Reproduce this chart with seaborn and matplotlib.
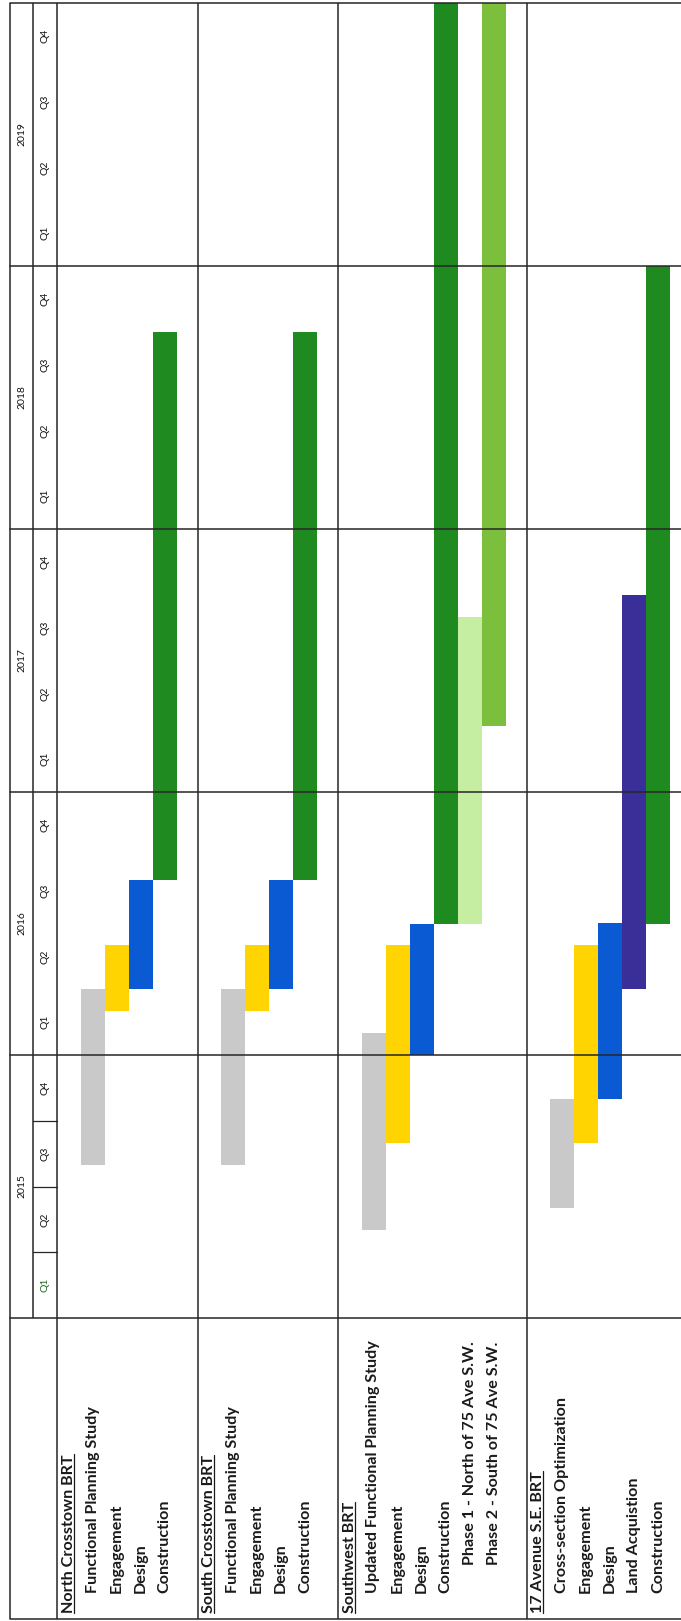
import matplotlib
matplotlib.use("Agg")
import matplotlib.pyplot as plt
import seaborn as sns
import pandas as pd
from matplotlib.lines import Line2D
from matplotlib.transforms import IdentityTransform

# ---- schedule data (months counted from January 2015) ----
groups = ["North Crosstown BRT", "South Crosstown BRT", "Southwest BRT", "17 Avenue S.E. BRT"]

nc_tasks = ["Functional Planning Study", "Engagement", "Design", "Construction"]
nc_start = [7, 14, 15, 20]
nc_end = [15, 17, 20, 45]
nc_kind = ["study", "engagement", "design", "construction"]
nc_indent = [1, 1, 1, 1]

sc_tasks = ["Functional Planning Study", "Engagement", "Design", "Construction"]
sc_start = [7, 14, 15, 20]
sc_end = [15, 17, 20, 45]
sc_kind = ["study", "engagement", "design", "construction"]
sc_indent = [1, 1, 1, 1]

sw_tasks = ["Updated Functional Planning Study", "Engagement", "Design", "Construction",
            "Phase 1 - North of 75 Ave S.W.", "Phase 2 - South of 75 Ave S.W."]
sw_start = [4, 8, 12, 18, 18, 27]
sw_end = [13, 17, 18, 60, 32, 60]
sw_kind = ["study", "engagement", "design", "construction", "phase1", "phase2"]
sw_indent = [1, 1, 1, 1, 2, 2]

ave_tasks = ["Cross-section Optimization", "Engagement", "Design", "Land Acquistion", "Construction"]
ave_start = [5, 8, 10, 15, 18]
ave_end = [10, 17, 18, 33, 48]
ave_kind = ["study", "engagement", "design", "land", "construction"]
ave_indent = [1, 1, 1, 1, 1]

years = ["2015", "2016", "2017", "2018", "2019"]
quarters = ["Q1", "Q2", "Q3", "Q4"]

palette = {
    "study": "#c9c9c9",
    "engagement": "#ffd400",
    "design": "#0a5bd3",
    "construction": "#1f8a1f",
    "phase1": "#c6eea2",
    "phase2": "#7cbf3d",
    "land": "#3a2f98",
}

group_data = [
    (nc_tasks, nc_start, nc_end, nc_kind, nc_indent),
    (sc_tasks, sc_start, sc_end, sc_kind, sc_indent),
    (sw_tasks, sw_start, sw_end, sw_kind, sw_indent),
    (ave_tasks, ave_start, ave_end, ave_kind, ave_indent),
]

# ---- layout (pixels) ----
W, H, DPI = 681, 1621, 100
Y0, YTOP, YBOT = 1318, 3, 1619          # start of 2015, top edge, bottom edge
MPX = (Y0 - YTOP) / 60.0                # pixels per month
LEFT, QCOL, LABCOL = 10, 33, 57
ROW, HEAD, GAP = 24.0, 23.5, 21.0
LINE = "#262626"


def ym(px):
    return (Y0 - px) / MPX


rows = []
group_edges = []
x = LABCOL
for g, (tasks, st, en, kind, ind) in zip(groups, group_data):
    rows.append(dict(label=g, x=x + HEAD / 2, start=None, end=None, kind=None, indent=0))
    cx = x + HEAD
    for t, s, e, k, i in zip(tasks, st, en, kind, ind):
        rows.append(dict(label=t, x=cx + ROW / 2, start=s, end=e, kind=k, indent=i))
        cx += ROW
    x = cx + GAP
    group_edges.append(x)
df = pd.DataFrame(rows)
bars = df.dropna(subset=["start"])

sns.set_theme(style="white")
plt.rcParams["font.family"] = ["Lato", "DejaVu Sans"]

fig = plt.figure(figsize=(W / DPI, H / DPI), dpi=DPI)
ax = fig.add_axes([0, 0, 1, 1])
ax.set_xlim(0, W)
ax.set_ylim(ym(H), ym(0))
ax.axis("off")

# ---- bars ----
ax.bar(bars["x"], bars["end"] - bars["start"], bottom=bars["start"], width=ROW,
       color=[palette[k] for k in bars["kind"]], linewidth=0, zorder=2)

# ---- table lines ----
lw = 1.1
for xv, y_lo in [(LEFT, YBOT), (QCOL, Y0), (LABCOL, YBOT)] + [(e, YBOT) for e in group_edges[:-1]]:
    ax.plot([xv, xv], [ym(YTOP), ym(y_lo)], color=LINE, lw=lw, zorder=3, solid_capstyle="butt")
for m in range(0, 61, 12):
    ax.plot([LEFT, W], [m, m], color=LINE, lw=lw, zorder=3)
ax.plot([LEFT, W], [ym(YBOT), ym(YBOT)], color=LINE, lw=lw, zorder=3)
for m in (3, 6, 9):
    ax.plot([QCOL, LABCOL], [m, m], color=LINE, lw=0.9, zorder=3)

# ---- time header ----
for i, yr in enumerate(years):
    ax.text((LEFT + QCOL) / 2, 12 * i + 6, yr, rotation=90, ha="center", va="center",
            fontsize=7.5, color="#111111")
    for q, ql in enumerate(quarters):
        col = "#1d6b1d" if (i == 0 and q == 0) else "#111111"
        ax.text((QCOL + LABCOL) / 2, 12 * i + 3 * q + 1.5, ql, rotation=90, ha="center",
                va="center", fontsize=7.5, color=col)

# ---- row labels ----
indent_px = {0: 1613, 1: 1593, 2: 1565}
headers = []
for _, r in df.iterrows():
    t = ax.text(r["x"], ym(indent_px[r["indent"]]), r["label"], rotation=90,
                ha="center", va="bottom", fontsize=11.6, fontweight="bold", color="#1a1a1a")
    if r["indent"] == 0:
        headers.append(t)

fig.canvas.draw()
renderer = fig.canvas.get_renderer()
for t in headers:
    bb = t.get_window_extent(renderer)
    xu = bb.x1 - 1.8
    fig.add_artist(Line2D([xu, xu], [bb.y0, bb.y1], transform=IdentityTransform(),
                          color="#1a1a1a", lw=0.9))

fig.savefig("out.png", dpi=DPI)
